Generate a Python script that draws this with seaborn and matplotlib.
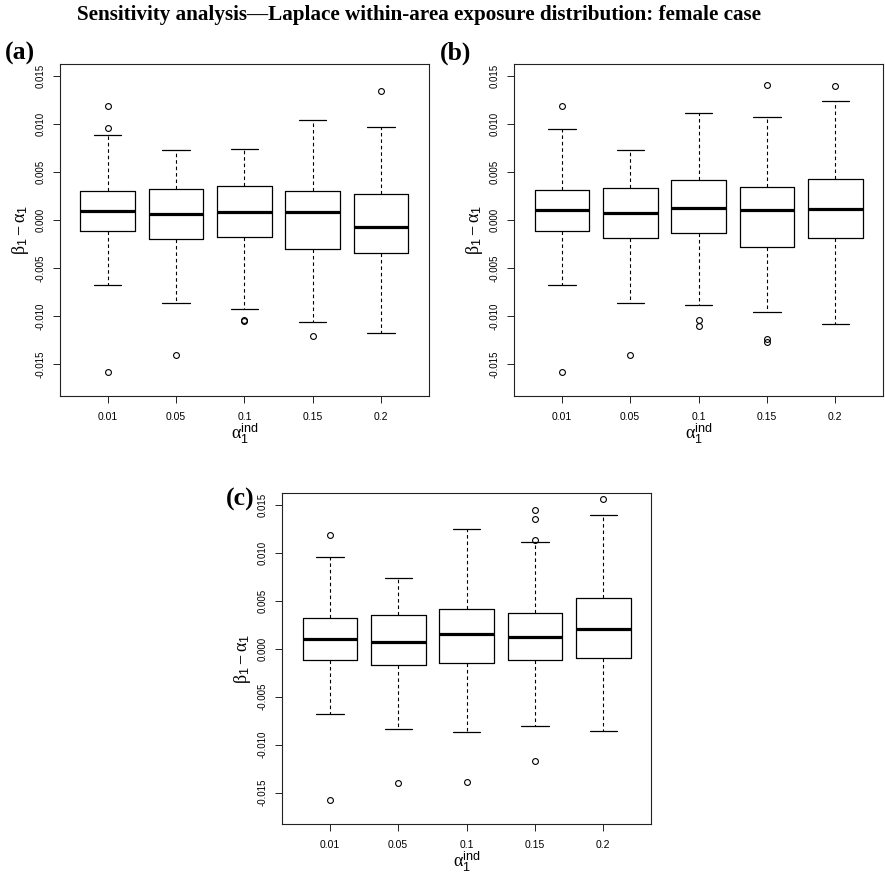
import matplotlib
matplotlib.use("Agg")
import matplotlib.pyplot as plt
import seaborn as sns

# ---------------- data ----------------
categories = ["0.01", "0.05", "0.1", "0.15", "0.2"]

# panel (a)
a_whislo = [-0.00677, -0.00862, -0.00918, -0.01061, -0.01172]
a_q1 = [-0.00115, -0.00195, -0.00178, -0.00293, -0.00335]
a_med = [0.00101, 0.00063, 0.00087, 0.00091, -0.00066]
a_q3 = [0.00307, 0.00325, 0.00356, 0.00304, 0.00276]
a_whishi = [0.00886, 0.00733, 0.00747, 0.01040, 0.00977]
a_fliers = [[0.01190, 0.00960, -0.01577], [-0.01403], [-0.01040, -0.01050],
            [-0.01207], [0.01347]]

# panel (b)
b_whislo = [-0.00677, -0.00858, -0.00879, -0.00953, -0.01075]
b_q1 = [-0.00115, -0.00185, -0.00136, -0.00279, -0.00188]
b_med = [0.00105, 0.00080, 0.00126, 0.00112, 0.00115]
b_q3 = [0.00318, 0.00335, 0.00419, 0.00352, 0.00429]
b_whishi = [0.00956, 0.00736, 0.01120, 0.01075, 0.01246]
b_fliers = [[0.01190, -0.01577], [-0.01403], [-0.01033, -0.01096],
            [0.01406, -0.01232, -0.01270], [0.01399]]

# panel (c)
c_whislo = [-0.00677, -0.00837, -0.00869, -0.00806, -0.00862]
c_q1 = [-0.00119, -0.00171, -0.00150, -0.00119, -0.00091]
c_med = [0.00105, 0.00073, 0.00157, 0.00122, 0.00206]
c_q3 = [0.00318, 0.00356, 0.00422, 0.00377, 0.00534]
c_whishi = [0.00956, 0.00740, 0.01249, 0.01120, 0.01396]
c_fliers = [[0.01193, -0.01580], [-0.01399], [-0.01392],
            [0.01448, 0.01357, 0.01141, -0.01165], [0.01563]]

y_ticks = [-0.015, -0.010, -0.005, 0.000, 0.005, 0.010, 0.015]
y_limits = (-0.017, 0.015)

title_text = "Sensitivity analysis\u2014Laplace within-area exposure distribution: female case"
panel_labels = ["(a)", "(b)", "(c)"]

# ---------------- style ----------------
sns.set_theme(style="ticks")
plt.rcParams["font.family"] = ["Liberation Sans", "DejaVu Sans"]
plt.rcParams["text.color"] = "black"
plt.rcParams["axes.labelcolor"] = "black"
plt.rcParams["xtick.color"] = "black"
plt.rcParams["ytick.color"] = "black"
plt.rcParams["axes.unicode_minus"] = False
plt.rcParams["mathtext.fontset"] = "custom"
plt.rcParams["mathtext.rm"] = "Liberation Serif"
plt.rcParams["mathtext.it"] = "Liberation Serif:italic"
plt.rcParams["mathtext.sf"] = "Liberation Sans"

W, H = 885, 877
fig = plt.figure(figsize=(W / 100, H / 100), dpi=100)
fig.patch.set_facecolor("white")


def px_axes(left, top, right, bottom):
    return fig.add_axes([left / W, 1 - bottom / H, (right - left) / W, (bottom - top) / H])


def draw_panel(ax, whislo, q1, med, q3, whishi, fliers):
    stats = []
    for i, lab in enumerate(categories):
        stats.append(dict(label=lab, whislo=whislo[i], q1=q1[i], med=med[i],
                          q3=q3[i], whishi=whishi[i], fliers=fliers[i]))
    pos = list(range(1, len(categories) + 1))
    ax.bxp(stats, positions=pos, widths=0.8, capwidths=0.4, showfliers=True,
           patch_artist=False,
           boxprops=dict(color="black", linewidth=0.9),
           medianprops=dict(color="black", linewidth=2.3, solid_capstyle="butt"),
           whiskerprops=dict(color="black", linewidth=0.8, linestyle=(0, (3.2, 2.6))),
           capprops=dict(color="black", linewidth=0.9),
           flierprops=dict(marker="o", markersize=4.2, markerfacecolor="none",
                           markeredgecolor="black", markeredgewidth=0.8, linestyle="none"))
    n = len(categories)
    ax.set_xlim(0.5 - 0.04 * n, n + 0.5 + 0.04 * n)
    yr = y_limits[1] - y_limits[0]
    ax.set_ylim(y_limits[0] - 0.04 * yr, y_limits[1] + 0.04 * yr)
    ax.set_xticks(pos)
    ax.set_xticklabels(categories, fontsize=7.5)
    ax.set_yticks(y_ticks)
    ax.set_yticklabels(["%.3f" % v for v in y_ticks], fontsize=7, rotation=90, va="center")
    ax.tick_params(axis="both", direction="out", length=5, width=0.7, labelcolor="black",
                   color="#222222")
    ax.tick_params(axis="x", pad=6.5)
    ax.tick_params(axis="y", pad=5.5)
    for s in ax.spines.values():
        s.set_visible(True)
        s.set_linewidth(0.8)
        s.set_color("#222222")
    ax.set_facecolor("white")
    ax.grid(False)
    ax.set_xlabel(r"$\mathrm{\alpha}_{\mathsf{1}}^{\mathsf{ind}}$", fontsize=13, labelpad=0)
    ax.set_ylabel(r"$\mathrm{\beta}_{\mathsf{1}} - \mathrm{\alpha}_{\mathsf{1}}$", fontsize=13,
                  labelpad=3)


ax_a = px_axes(60, 64, 429, 396)
ax_b = px_axes(514, 64, 883, 396)
ax_c = px_axes(282, 493, 651, 824)

draw_panel(ax_a, a_whislo, a_q1, a_med, a_q3, a_whishi, a_fliers)
draw_panel(ax_b, b_whislo, b_q1, b_med, b_q3, b_whishi, b_fliers)
draw_panel(ax_c, c_whislo, c_q1, c_med, c_q3, c_whishi, c_fliers)

serif_bold = dict(family=["Liberation Serif", "DejaVu Serif"], weight="bold", color="black")
fig.text(419 / W, 1 - 15 / H, title_text, ha="center", va="center", fontsize=15.2, **serif_bold)
fig.text(5 / W, 1 - 53 / H, panel_labels[0], ha="left", va="center", fontsize=18.5, **serif_bold)
fig.text(440 / W, 1 - 53 / H, panel_labels[1], ha="left", va="center", fontsize=18.5, **serif_bold)
fig.text(226 / W, 1 - 499 / H, panel_labels[2], ha="left", va="center", fontsize=18.5, **serif_bold)

fig.savefig("out.png", dpi=100, facecolor="white")
